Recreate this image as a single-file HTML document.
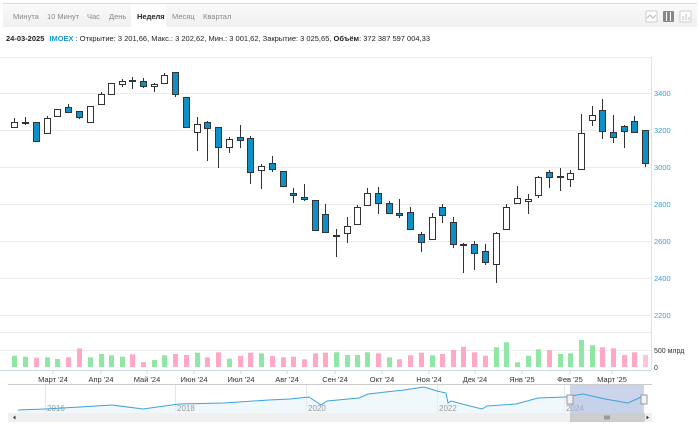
<!DOCTYPE html>
<html><head><meta charset="utf-8"><style>
body{margin:0;width:700px;height:431px;overflow:hidden;background:#fff;font-family:"Liberation Sans",sans-serif;}
svg text{font-family:"Liberation Sans",sans-serif;}
</style></head><body>
<svg width="700" height="431" viewBox="0 0 700 431" xmlns="http://www.w3.org/2000/svg">
<defs><linearGradient id="tb" x1="0" y1="0" x2="0" y2="1"><stop offset="0" stop-color="#fafafa"/><stop offset="1" stop-color="#f0f0f0"/></linearGradient></defs>
<rect x="3" y="3" width="694" height="24" fill="url(#tb)"/>
<line x1="3" y1="3.5" x2="697" y2="3.5" stroke="#ddd"/>
<rect x="131" y="4" width="35" height="23" fill="#fff"/>
<g font-size="7.5" fill="#888">
<text x="13" y="19">Минута</text><text x="47" y="19">10 Минут</text><text x="87" y="19">Час</text><text x="109" y="19">День</text>
<text x="137" y="19" fill="#222" font-weight="bold">Неделя</text><text x="172" y="19">Месяц</text><text x="203" y="19">Квартал</text>
</g>
<rect x="646" y="11" width="11" height="11" fill="#fff" stroke="#ccc" rx="1"/><polyline points="647,18 650,15 653,18 656,15" fill="none" stroke="#bbb"/>
<rect x="663" y="11" width="11" height="11" fill="#888" rx="1"/><line x1="666.5" y1="12" x2="666.5" y2="21" stroke="#fff"/><line x1="670.5" y1="12" x2="670.5" y2="21" stroke="#fff"/>
<rect x="680" y="11" width="11" height="11" fill="#fff" stroke="#ccc" rx="1"/><path d="M683 20v-4M686 20v-6M689 20v-3" stroke="#bbb"/>
<text x="6" y="41" font-size="7.5" fill="#222"><tspan font-weight="bold">24-03-2025</tspan><tspan fill="#1a9ad6" font-weight="bold" dx="5">IMOEX</tspan><tspan> : Открытие: 3 201,66, Макс.: 3 202,62, Мин.: 3 001,62, Закрытие: 3 025,65, </tspan><tspan font-weight="bold">Объём</tspan><tspan>: 372 387 597 004,33</tspan></text>
<!-- grid -->
<g stroke="#ebebeb" stroke-width="1">
<line x1="0" y1="57.5" x2="651" y2="57.5"/>
<line x1="0" y1="93.5" x2="651" y2="93.5"/><line x1="0" y1="130.5" x2="651" y2="130.5"/><line x1="0" y1="167.5" x2="651" y2="167.5"/><line x1="0" y1="204.5" x2="651" y2="204.5"/><line x1="0" y1="241.5" x2="651" y2="241.5"/><line x1="0" y1="278.5" x2="651" y2="278.5"/><line x1="0" y1="315.5" x2="651" y2="315.5"/>
<line x1="0" y1="332.5" x2="651" y2="332.5"/><line x1="0" y1="350.5" x2="651" y2="350.5"/>
</g>
<line x1="651.5" y1="57" x2="651.5" y2="370" stroke="#dde3ee"/>
<line x1="0" y1="370.5" x2="651" y2="370.5" stroke="#ccd6eb"/>
<g font-size="7.5" fill="#3aa0d8">
<text x="654" y="96">3400</text><text x="654" y="133">3200</text><text x="654" y="170">3000</text><text x="654" y="207">2800</text><text x="654" y="244">2600</text><text x="654" y="281">2400</text><text x="654" y="318">2200</text>
</g>
<g font-size="7" fill="#333"><text x="654" y="353">500 млрд</text><text x="654" y="370">0</text></g>
<!-- candles -->
<g stroke="#333" stroke-width="1">
<line x1="14.5" y1="118" x2="14.5" y2="127"/><line x1="25.5" y1="117" x2="25.5" y2="125"/><line x1="36.5" y1="122" x2="36.5" y2="141"/><line x1="47.5" y1="116" x2="47.5" y2="133"/><line x1="57.5" y1="109" x2="57.5" y2="116"/><line x1="68.5" y1="104" x2="68.5" y2="113"/><line x1="79.5" y1="111" x2="79.5" y2="119"/><line x1="90.5" y1="106" x2="90.5" y2="123"/><line x1="101.5" y1="92" x2="101.5" y2="104"/><line x1="111.5" y1="83" x2="111.5" y2="94"/><line x1="122.5" y1="79" x2="122.5" y2="87"/><line x1="132.5" y1="77" x2="132.5" y2="89"/><line x1="143.5" y1="78" x2="143.5" y2="88"/><line x1="154.5" y1="83" x2="154.5" y2="92"/><line x1="164.5" y1="73" x2="164.5" y2="84"/><line x1="175.5" y1="72" x2="175.5" y2="97"/><line x1="186.5" y1="97" x2="186.5" y2="127"/><line x1="197.5" y1="117" x2="197.5" y2="151"/><line x1="207.5" y1="121" x2="207.5" y2="161"/><line x1="218.5" y1="127" x2="218.5" y2="168"/><line x1="229.5" y1="137" x2="229.5" y2="153"/><line x1="240.5" y1="125" x2="240.5" y2="148"/><line x1="250.5" y1="136" x2="250.5" y2="184"/><line x1="261.5" y1="164" x2="261.5" y2="189"/><line x1="272.5" y1="156" x2="272.5" y2="172"/><line x1="283.5" y1="171" x2="283.5" y2="187"/><line x1="293.5" y1="188" x2="293.5" y2="203"/><line x1="304.5" y1="184" x2="304.5" y2="201"/><line x1="315.5" y1="200" x2="315.5" y2="230"/><line x1="325.5" y1="204" x2="325.5" y2="232"/><line x1="336.5" y1="229" x2="336.5" y2="257"/><line x1="347.5" y1="217" x2="347.5" y2="243"/><line x1="357.5" y1="205" x2="357.5" y2="224"/><line x1="367.5" y1="188" x2="367.5" y2="205"/><line x1="378.5" y1="187" x2="378.5" y2="214"/><line x1="389.5" y1="201" x2="389.5" y2="214"/><line x1="399.5" y1="199" x2="399.5" y2="218"/><line x1="410.5" y1="207" x2="410.5" y2="229"/><line x1="421.5" y1="232" x2="421.5" y2="252"/><line x1="432.5" y1="213" x2="432.5" y2="240"/><line x1="442.5" y1="204" x2="442.5" y2="223"/><line x1="453.5" y1="217" x2="453.5" y2="248"/><line x1="463.5" y1="243" x2="463.5" y2="273"/><line x1="474.5" y1="241" x2="474.5" y2="270"/><line x1="485.5" y1="244" x2="485.5" y2="265"/><line x1="496.5" y1="232" x2="496.5" y2="283"/><line x1="506.5" y1="204" x2="506.5" y2="229"/><line x1="517.5" y1="186" x2="517.5" y2="204"/><line x1="528.5" y1="194" x2="528.5" y2="214"/><line x1="538.5" y1="176" x2="538.5" y2="198"/><line x1="549.5" y1="170" x2="549.5" y2="188"/><line x1="560.5" y1="168" x2="560.5" y2="191"/><line x1="570.5" y1="170" x2="570.5" y2="187"/><line x1="581.5" y1="114" x2="581.5" y2="169"/><line x1="592.5" y1="106" x2="592.5" y2="126"/><line x1="602.5" y1="99" x2="602.5" y2="139"/><line x1="613.5" y1="115" x2="613.5" y2="143"/><line x1="624.5" y1="125" x2="624.5" y2="148"/><line x1="634.5" y1="116" x2="634.5" y2="133"/><line x1="645.5" y1="130" x2="645.5" y2="167"/>
</g>
<g stroke="#333" stroke-width="1" fill="#fff">
<rect x="11.5" y="122.5" width="6" height="5"/><rect x="22.5" y="122.5" width="6" height="1"/><rect x="44.5" y="118.5" width="6" height="15"/><rect x="54.5" y="109.5" width="6" height="7"/><rect x="87.5" y="106.5" width="6" height="16"/><rect x="98.5" y="94.5" width="6" height="10"/><rect x="108.5" y="83.5" width="6" height="11"/><rect x="119.5" y="81.5" width="6" height="3"/><rect x="129.5" y="80.5" width="6" height="1"/><rect x="151.5" y="84.5" width="6" height="2"/><rect x="161.5" y="75.5" width="6" height="8"/><rect x="194.5" y="124.5" width="6" height="8"/><rect x="226.5" y="139.5" width="6" height="8"/><rect x="258.5" y="166.5" width="6" height="4"/><rect x="333.5" y="235.5" width="6" height="1"/><rect x="344.5" y="226.5" width="6" height="7"/><rect x="354.5" y="207.5" width="6" height="17"/><rect x="364.5" y="193.5" width="6" height="12"/><rect x="429.5" y="217.5" width="6" height="22"/><rect x="493.5" y="233.5" width="6" height="31"/><rect x="503.5" y="207.5" width="6" height="22"/><rect x="514.5" y="198.5" width="6" height="5"/><rect x="525.5" y="199.5" width="6" height="2"/><rect x="535.5" y="177.5" width="6" height="18"/><rect x="557.5" y="176.5" width="6" height="1"/><rect x="567.5" y="173.5" width="6" height="6"/><rect x="578.5" y="133.5" width="6" height="36"/><rect x="589.5" y="115.5" width="6" height="5"/>
</g>
<g stroke="#333" stroke-width="1" fill="#0f8fc8">
<rect x="33.5" y="122.5" width="6" height="19"/><rect x="65.5" y="107.5" width="6" height="5"/><rect x="76.5" y="111.5" width="6" height="6"/><rect x="140.5" y="81.5" width="6" height="5"/><rect x="172.5" y="72.5" width="6" height="22"/><rect x="183.5" y="97.5" width="6" height="30"/><rect x="204.5" y="122.5" width="6" height="6"/><rect x="215.5" y="127.5" width="6" height="20"/><rect x="237.5" y="137.5" width="6" height="3"/><rect x="247.5" y="138.5" width="6" height="34"/><rect x="269.5" y="163.5" width="6" height="6"/><rect x="280.5" y="171.5" width="6" height="15"/><rect x="290.5" y="193.5" width="6" height="2"/><rect x="301.5" y="197.5" width="6" height="2"/><rect x="312.5" y="200.5" width="6" height="30"/><rect x="322.5" y="214.5" width="6" height="18"/><rect x="375.5" y="193.5" width="6" height="10"/><rect x="386.5" y="203.5" width="6" height="10"/><rect x="396.5" y="213.5" width="6" height="2"/><rect x="407.5" y="212.5" width="6" height="17"/><rect x="418.5" y="234.5" width="6" height="8"/><rect x="439.5" y="207.5" width="6" height="8"/><rect x="450.5" y="222.5" width="6" height="22"/><rect x="460.5" y="244.5" width="6" height="1"/><rect x="471.5" y="244.5" width="6" height="9"/><rect x="482.5" y="251.5" width="6" height="11"/><rect x="546.5" y="172.5" width="6" height="5"/><rect x="599.5" y="110.5" width="6" height="21"/><rect x="610.5" y="132.5" width="6" height="5"/><rect x="621.5" y="126.5" width="6" height="5"/><rect x="631.5" y="121.5" width="6" height="11"/><rect x="642.5" y="130.5" width="6" height="33"/>
</g>
<!-- volume -->
<g fill="#90e6a4">
<rect x="12" y="355.7" width="5" height="11.3"/><rect x="23" y="356.7" width="5" height="10.3"/><rect x="45" y="357.3" width="5" height="9.7"/><rect x="55" y="359" width="5" height="8"/><rect x="88" y="357.3" width="5" height="9.7"/><rect x="99" y="354" width="5" height="13"/><rect x="109" y="355.3" width="5" height="11.7"/><rect x="120" y="356.7" width="5" height="10.3"/><rect x="152" y="360" width="5" height="7"/><rect x="162" y="355.3" width="5" height="11.7"/><rect x="195" y="352.7" width="5" height="14.3"/><rect x="227" y="358.7" width="5" height="8.3"/><rect x="259" y="353.3" width="5" height="13.7"/><rect x="334" y="352.3" width="5" height="14.7"/><rect x="345" y="355" width="5" height="12"/><rect x="355" y="355" width="5" height="12"/><rect x="365" y="352.3" width="5" height="14.7"/><rect x="387" y="357.3" width="5" height="9.7"/><rect x="430" y="355.3" width="5" height="11.7"/><rect x="494" y="347.3" width="5" height="19.7"/><rect x="504" y="342.3" width="5" height="24.7"/><rect x="515" y="362.3" width="5" height="4.7"/><rect x="526" y="355.7" width="5" height="11.3"/><rect x="536" y="349.3" width="5" height="17.7"/><rect x="558" y="354" width="5" height="13"/><rect x="568" y="353.3" width="5" height="13.7"/><rect x="579" y="340" width="5" height="27"/><rect x="590" y="345.3" width="5" height="21.7"/>
</g>
<g fill="#ffa9c6">
<rect x="34" y="357.7" width="5" height="9.3"/><rect x="66" y="357.3" width="5" height="9.7"/><rect x="77" y="348.3" width="5" height="18.7"/><rect x="130" y="354.3" width="5" height="12.7"/><rect x="141" y="362" width="5" height="5"/><rect x="173" y="354" width="5" height="13"/><rect x="184" y="355" width="5" height="12"/><rect x="205" y="357.3" width="5" height="9.7"/><rect x="216" y="352.3" width="5" height="14.7"/><rect x="238" y="356" width="5" height="11"/><rect x="248" y="352.7" width="5" height="14.3"/><rect x="270" y="356" width="5" height="11"/><rect x="281" y="357.3" width="5" height="9.7"/><rect x="291" y="356.7" width="5" height="10.3"/><rect x="302" y="359.3" width="5" height="7.7"/><rect x="313" y="353.3" width="5" height="13.7"/><rect x="323" y="352.7" width="5" height="14.3"/><rect x="376" y="353.3" width="5" height="13.7"/><rect x="397" y="359.3" width="5" height="7.7"/><rect x="408" y="355.3" width="5" height="11.7"/><rect x="419" y="352.7" width="5" height="14.3"/><rect x="440" y="354" width="5" height="13"/><rect x="451" y="350" width="5" height="17"/><rect x="461" y="346.7" width="5" height="20.3"/><rect x="472" y="352.3" width="5" height="14.7"/><rect x="483" y="355.7" width="5" height="11.3"/><rect x="547" y="350" width="5" height="17"/><rect x="600" y="347.3" width="5" height="19.7"/><rect x="611" y="348.3" width="5" height="18.7"/><rect x="622" y="355" width="5" height="12"/><rect x="632" y="352.3" width="5" height="14.7"/><rect x="643" y="355" width="5" height="12" fill="#ffc4da"/>
</g>
<g stroke="#ccd6eb"><line x1="53" y1="370" x2="53" y2="374"/><line x1="101" y1="370" x2="101" y2="374"/><line x1="147" y1="370" x2="147" y2="374"/><line x1="194" y1="370" x2="194" y2="374"/><line x1="241" y1="370" x2="241" y2="374"/><line x1="287" y1="370" x2="287" y2="374"/><line x1="335" y1="370" x2="335" y2="374"/><line x1="382" y1="370" x2="382" y2="374"/><line x1="429" y1="370" x2="429" y2="374"/><line x1="475" y1="370" x2="475" y2="374"/><line x1="522" y1="370" x2="522" y2="374"/><line x1="570" y1="370" x2="570" y2="374"/><line x1="612" y1="370" x2="612" y2="374"/></g>
<g font-size="7.5" fill="#333" text-anchor="middle">
<text x="53" y="382">Март '24</text><text x="101" y="382">Апр '24</text><text x="147" y="382">Май '24</text><text x="194" y="382">Июн '24</text><text x="241" y="382">Июл '24</text><text x="287" y="382">Авг '24</text><text x="335" y="382">Сен '24</text><text x="382" y="382">Окт '24</text><text x="429" y="382">Ноя '24</text><text x="475" y="382">Дек '24</text><text x="522" y="382">Янв '25</text><text x="570" y="382">Фев '25</text><text x="612" y="382">Март '25</text>
</g>
<!-- navigator -->
<line x1="8" y1="384.5" x2="652" y2="384.5" stroke="#ccc"/>
<g stroke="#e6e6e6"><line x1="45.5" y1="385" x2="45.5" y2="413"/><line x1="175.5" y1="385" x2="175.5" y2="413"/><line x1="306.5" y1="385" x2="306.5" y2="413"/><line x1="437.5" y1="385" x2="437.5" y2="413"/><line x1="564.5" y1="385" x2="564.5" y2="413"/></g>
<polygon points="18,410 45,409 112,405 143,409 179,404 224,403 269,400 309,397 321,405 327,401 359,398 368,394 404,390 424,387 437,391 446,393 448,403 451,401 466,405 482,409 487,406 516,404 538,398 565,397 583,394 605,399 628,403 641,397 641,413 18,413" fill="#e8f3fa" opacity="0.6"/>
<g font-size="8" fill="#999"><text x="47" y="411">2016</text><text x="177" y="411">2018</text><text x="308" y="411">2020</text><text x="439" y="411">2022</text><text x="566" y="411">2024</text></g>
<rect x="570" y="385" width="74" height="28" fill="#aab8dd" opacity="0.6"/>
<polyline points="18,410 45,409 80,407 112,405 143,409 179,404 224,403 269,400 290,399 309,397 321,405 327,401 359,398 368,394 404,390 424,387 437,391 446,393 448,403 451,401 466,405 482,409 487,406 516,404 538,398 565,397 583,394 605,399 628,403 641,397" fill="none" stroke="#3da3dc" stroke-width="1"/>
<rect x="567" y="395" width="6" height="9" fill="#f2f2f2" stroke="#999"/><rect x="641" y="395" width="6" height="9" fill="#f2f2f2" stroke="#999"/>
<rect x="8" y="413" width="644" height="9" fill="#f0f0f0"/>
<rect x="570" y="413" width="75" height="9" fill="#cdcdcd"/>
<path d="M13 417.5l2.5-2v4zM649 417.5l-2.5-2v4z" fill="#333"/>
<path d="M605 415.5v4M607 415.5v4M609 415.5v4" stroke="#666"/>
</svg>
</body></html>
